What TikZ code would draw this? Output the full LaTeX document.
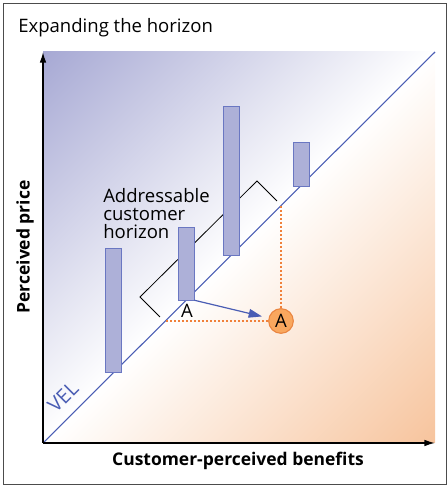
\documentclass[tikz,border=0pt]{standalone}
\usepackage{fontspec}
\setmainfont{Open Sans}
\usetikzlibrary{arrows.meta, calc, positioning}

\definecolor{barfill}{HTML}{ADB0D8}
\definecolor{barline}{HTML}{6A77C2}
\definecolor{velblue}{HTML}{4A5DB4}
\definecolor{shadeblue}{HTML}{A7A9D4}
\definecolor{shadeorange}{HTML}{F7C49D}
\definecolor{dotorange}{HTML}{F0803A}
\definecolor{circfill}{HTML}{F9A75E}
\definecolor{circline}{HTML}{EA8540}

\pgfdeclarehorizontalshading{velshade}{100bp}{color(0bp)=(shadeblue); color(14.6bp)=(shadeblue);
  color(50bp)=(white); color(85.4bp)=(shadeorange); color(100bp)=(shadeorange)}

\begin{document}
\begin{tikzpicture}[x=0.75pt, y=0.75pt,
    bar/.style={draw=barline, fill=barfill, rectangle, inner sep=0pt, minimum width=12.3pt},
    txt/.style={font=\fontsize{13.9}{13.6}\selectfont, inner sep=0pt},
    axislabel/.style={font=\bfseries\fontsize{13.1}{14}\selectfont, inner sep=0pt},
    orangedots/.style={dotorange, line width=1.5pt, dash pattern=on 1.5pt off 1.5pt}]

      \useasboundingbox (0,0) rectangle (447,486);

% Frame and title
      \draw[black!70, line width=0.6pt] (3,2) rectangle (446,483);
      \node[txt, anchor=west] (title) at (18,458) {Expanding the horizon};

% Background
      \coordinate (O) at (43,43);
      \coordinate (Top) at (43,434);
      \coordinate (Right) at (435,43);
      \shade[shading=velshade, shading angle=-45] (O) rectangle (435,434);

% VEL
      \draw[velblue, line width=0.8pt] (O) -- (435,434);
      \node[txt, velblue, rotate=45, font=\fontsize{15}{15}\selectfont] (vel) at (63,89) {VEL};

% Horizon bracket
      \draw[black, line width=0.6pt] (160,169) -- (140,189) -- (257,305) -- (277,285);
      \node[txt, anchor=north west, align=left] (horizon) at (103,298) {Addressable\\customer\\horizon};

% Bars
      \node[bar, minimum height=93pt] (bar1) at (113.5,176) {};
      \node[bar, minimum height=54.75pt] (bar2) at (186,222.5) {};
      \node[bar, minimum height=111.75pt] (bar3) at (231,305.5) {};
      \node[bar, minimum height=33pt] (bar4) at (301,322) {};

% Move of A
      \node[txt] (A) at (187,175) {A};
      \node[draw=circline, fill=circfill, circle, line width=0.8pt, minimum size=18.5pt, inner sep=0pt,
        font=\fontsize{13.9}{13.6}\selectfont] (newA) at (281,165) {A};
      \coordinate (velA) at (166,165);
      \coordinate (velnewA) at (281,280);
      \draw[orangedots] (velA) -- (newA.west);
      \draw[orangedots] (velnewA) -- (newA.north);
      \draw[-{Triangle[length=10pt, width=6.5pt]}, velblue, line width=0.9pt, shorten >=5pt] (bar2.south east) -- (newA);

% Axes
      \draw[-{Latex[length=8pt, width=5pt]}, line width=1pt] (O) -- (Top);
      \draw[-{Latex[length=8pt, width=5pt]}, line width=1pt] (O) -- (Right);
      \node[axislabel] (xlabel) at (238,25) {Customer-perceived benefits};
      \node[axislabel, rotate=90] (ylabel) at (25,239) {Perceived price};

    \end{tikzpicture}
\end{document}
